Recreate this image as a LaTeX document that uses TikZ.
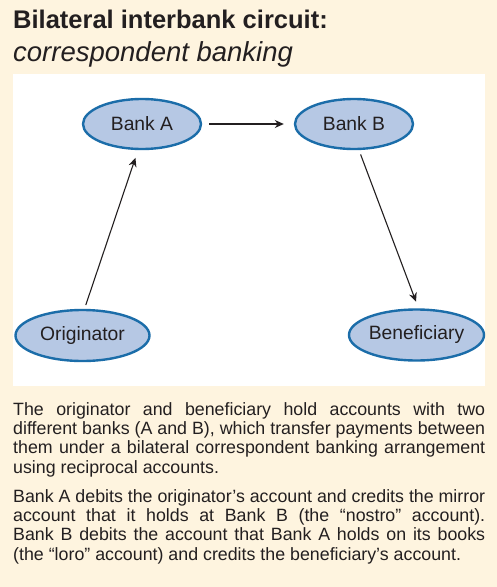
\documentclass[tikz,border=0pt]{standalone}
\usepackage{fontspec}
\setmainfont{Liberation Sans}
\usepackage{xcolor}
\usepackage{tikz}
\usetikzlibrary{shapes.geometric,arrows.meta}
\usetikzlibrary{positioning}

\definecolor{paper}{HTML}{FEF4DF}
\definecolor{bankfill}{HTML}{B6C8E4}
\definecolor{bankline}{HTML}{1B6DA9}
\definecolor{ink}{HTML}{231F20}

\begin{document}
\begin{tikzpicture}[x=1pt,y=-1pt,
            party/.style={ellipse, draw=bankline, fill=bankfill, line width=2.4pt, inner sep=0pt, text=ink, font=\fontsize{19.3}{21}\selectfont},
            bank/.style={party, minimum width=118pt, minimum height=50pt},
            client/.style={party, minimum width=134pt, minimum height=51pt},
            flow/.style={-{Stealth[length=9pt,width=8pt]}, line width=1.1pt, draw=ink},
            para/.style={anchor=base west, inner sep=0pt, text width=472pt, align=justify, text=ink, font=\fontsize{17.8}{19.4}\selectfont}]
            \useasboundingbox (0,0) rectangle (497,587);
            \fill[paper] (0,0) rectangle (497,587);
            \fill[white] (13,74) rectangle (485,386);

            \node[anchor=base west, inner sep=0pt, text=ink, font=\bfseries\fontsize{25.5}{28}\selectfont] at (13,28.3) (title) {Bilateral interbank circuit:};
            \node[anchor=base west, inner sep=0pt, text=ink, font=\itshape\fontsize{27.5}{30}\selectfont] at (13,61) (subtitle) {correspondent banking};

            \node[bank] at (142,124) (bankA) {Bank A};
            \node[bank] at (354,124) (bankB) {Bank B};
            \node[client] at (82.5,335.5) (orig) {Originator};
            \node[client] at (416.5,335) (benef) {Beneficiary};

            \draw[flow, shorten <=7pt, shorten >=10pt] (bankA) -- (bankB);
            \draw[flow, shorten <=4pt, shorten >=8pt] ([xshift=2pt]orig.north) -- ([xshift=-4pt]bankA.south);
            \draw[flow, shorten <=4.5pt, shorten >=7pt] ([xshift=5pt]bankB.south) -- ([xshift=2pt]benef.north);

            \node[para] at (13,415) (text1) {The originator and beneficiary hold accounts with two\linebreak different banks (A and B), which transfer payments between\linebreak them under a bilateral correspondent banking arrangement\linebreak using reciprocal accounts.};
            \node[para] at (13,502) (text2) {\parfillskip=0pt Bank A debits the originator’s account and credits the mirror\linebreak account that it holds at Bank B (the “nostro” account).\linebreak Bank B debits the account that Bank A holds on its books\linebreak (the “loro” account) and credits the beneficiary’s account.};
        \end{tikzpicture}
\end{document}
